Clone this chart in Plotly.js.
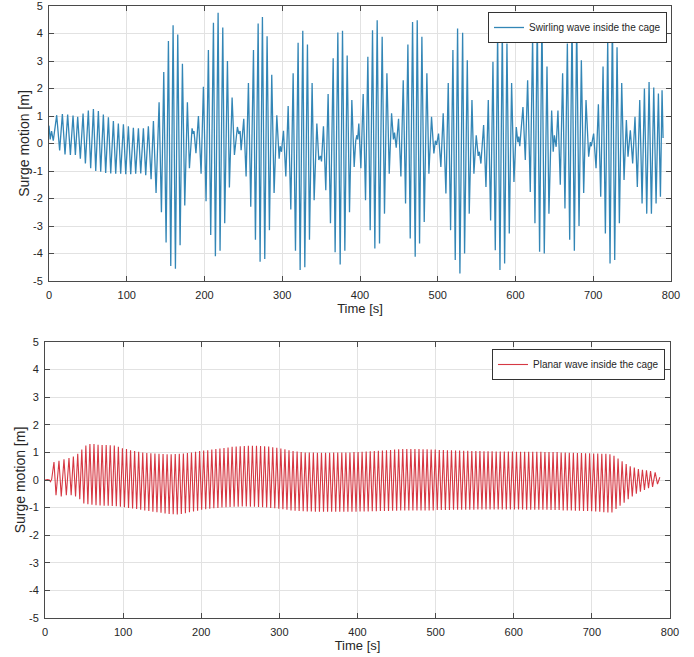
<!DOCTYPE html>
<html>
<head>
<meta charset="utf-8">
<script src="https://cdn.plot.ly/plotly-3.0.1.min.js"></script>
<style>html,body{margin:0;padding:0;background:#fff;}#chart{width:694px;height:657px;}</style>
</head>
<body>
<div id="chart"></div>
<script>
// ---------- Tick labels ----------
const xTickVals = [0, 100, 200, 300, 400, 500, 600, 700, 800];
const xTickText = ['0', '100', '200', '300', '400', '500', '600', '700', '800'];
const yTickVals = [-5, -4, -3, -2, -1, 0, 1, 2, 3, 4, 5];
const yTickText = ['-5', '-4', '-3', '-2', '-1', '0', '1', '2', '3', '4', '5'];

// ---------- Series names ----------
const swirlName = 'Swirling wave inside the cage';
const planarName = 'Planar wave inside the cage';

// ---------- Swirling wave: extremum times [s] and values [m] ----------
const swirlT = [
 0, 1.5, 3.3, 5.5,
 9.9, 13.7, 17.2, 20.6, 24.0, 27.5, 30.9, 33.9, 36.9, 40.3, 43.8, 46.8, 50.6, 53.6, 57.1, 60.1,
 63.5, 66.5, 69.9, 72.9, 76.4, 79.4, 82.8, 85.8, 89.2, 92.2, 95.7, 98.7, 102.1, 105.1, 108.5, 111.5,
 115.0, 118.0, 121.4, 124.4, 127.8, 131.3, 134.3, 137.7, 141.6, 144.6, 147.6, 150.6, 153.6, 156.6,
 159.6, 162.6, 165.6, 168.6, 171.6, 174.6, 178.0, 180.6,
 184.0, 185.5, 186.5, 189.0,
 192.2, 195.6, 198.6, 202.0, 205.0, 208.0, 211.5, 214.0, 217.5, 220.0, 223.5, 226.0, 229.5, 232.0, 235.5, 238.5,
 242.3, 244.1, 245.8, 247.1,
 250.5, 253.5, 256.5, 259.5, 263.0, 265.5, 269.0, 271.5, 274.5, 277.5, 280.5, 283.5, 286.5, 289.5, 293.0, 296.0,
 297.3, 299.0,
 301.6, 304.6, 307.6, 311.0, 314.0, 317.0, 320.4, 323.0, 326.4, 329.0, 332.4, 335.0, 338.4, 341.0, 344.5, 347.0,
 349.0, 350.5,
 353.0, 356.0, 359.0, 362.0, 365.5, 368.0, 371.5, 374.5, 377.5, 380.5, 383.5, 386.5, 389.5, 392.5,
 394.5, 396.0, 397.0,
 398.5, 401.1, 404.1, 407.1, 410.1, 413.1, 416.1, 419.1, 422.1, 425.1, 428.5, 431.5, 434.6, 437.6, 440.6,
 443.0, 444.4, 446.6,
 449.6, 452.6, 455.6, 458.6, 461.6, 464.6, 467.6, 471.0, 473.6, 476.6, 479.6, 482.6, 486.0, 488.6, 492.0, 495.0,
 497.0, 498.5,
 501.0, 504.0, 507.0, 510.5, 513.5, 516.5, 519.5, 522.5, 525.5, 528.5, 532.0, 534.5, 538.0, 540.5, 544.0, 546.5,
 549.5, 552.0, 553.5, 555.5,
 559.0, 562.0, 565.0, 568.0, 571.0, 574.0, 577.0, 580.0, 583.0, 586.0, 589.0, 592.0, 595.0, 598.0,
 601.0, 603.0, 604.2, 605.5,
 609.6, 612.6, 615.6, 619.0, 622.0, 625.0, 628.0, 631.0, 634.0, 637.0, 640.5, 643.0, 646.5,
 648.5, 650.0, 651.0, 652.3,
 654.6, 657.6, 660.6, 663.6, 666.7, 669.7, 672.7, 675.7, 678.7, 681.7, 684.7, 687.7, 690.7, 694.1,
 696.3, 697.5,
 700.5, 703.6, 706.6, 709.6, 712.6, 715.6, 718.6, 721.6, 724.6, 727.6, 730.6, 733.6, 736.6, 739.6,
 742.6, 744.7, 747.7, 750.7, 753.7, 756.7, 759.8, 762.8, 765.8, 768.8, 771.8, 774.8, 777.8, 780.8,
 783.8, 786.4, 788.5, 789.8
];
const swirlY = [
 0.65, 0.15, 0.45, 0.1,
 1.03, -0.25, 1.07, -0.4, 1.05, -0.42, 1.02, -0.42, 0.97, -0.55, 1.09, -0.73, 1.2, -0.9, 1.25, -1.0,
 1.18, -1.03, 1.05, -1.07, 0.95, -1.09, 0.82, -1.1, 0.73, -1.1, 0.7, -1.12, 0.63, -1.12, 0.57, -1.1,
 0.55, -1.09, 0.55, -1.15, 0.63, -1.3, 0.82, -1.8, 1.5, -2.5, 2.6, -3.6, 3.73, -4.45,
 4.3, -4.55, 3.96, -3.7, 2.9, -2.25, 1.5, -0.9,
 0.55, 0.35, 0.45, -0.35,
 1.0, -1.1, 2.06, -2.1, 3.4, -3.33, 4.39, -4.1, 4.75, -3.9, 4.22, -2.9, 3.0, -1.6, 1.67, -0.42,
 0.6, 0.35, 0.45, -0.24,
 0.9, -1.2, 2.2, -2.3, 3.4, -3.5, 4.36, -4.3, 4.6, -4.2, 3.9, -3.15, 2.5, -1.8, 1.03, -0.55,
 -0.1, -0.3,
 0.46, -1.2, 1.36, -2.4, 2.55, -3.9, 3.66, -4.6, 4.1, -4.5, 3.6, -3.5, 2.2, -2.06, 0.73, -0.6,
 -0.45, -0.65,
 0.63, -1.7, 1.8, -2.9, 3.1, -3.95, 4.04, -4.4, 4.1, -3.9, 3.2, -2.5, 1.58, -0.85,
 0.1, 0.3, 0.15,
 0.73, -0.9, 1.8, -2.06, 3.15, -3.15, 4.12, -3.82, 4.48, -3.64, 3.88, -2.55, 2.55, -1.1, 1.1,
 0.15, 0.4, -0.15,
 0.9, -1.2, 2.3, -2.18, 3.6, -3.45, 4.42, -4.12, 4.48, -3.64, 3.88, -2.85, 2.55, -1.1, 0.97, -0.36,
 0.1, -0.05,
 0.36, -0.85, 1.1, -1.82, 2.2, -3.15, 3.4, -4.24, 4.18, -4.73, 4.03, -4.0, 3.03, -2.55, 1.58, -1.1,
 0.3, -0.45, -0.3, -0.73,
 0.67, -1.58, 1.58, -2.8, 2.97, -3.88, 4.0, -4.6, 4.18, -4.36, 3.64, -3.27, 2.2, -1.4,
 0.6, 0.05, 0.25, -0.1,
 1.33, -0.6, 2.3, -1.76, 3.88, -2.9, 4.5, -3.94, 4.6, -4.0, 2.8, -2.55, 1.2,
 -0.3, 0.3, 0.1, -0.12,
 1.2, -1.5, 2.55, -2.36, 3.64, -3.5, 4.5, -3.9, 4.4, -3.0, 3.03, -1.8, 1.58, -0.48,
 0.05, -0.1,
 0.36, -0.9, 1.43, -1.94, 2.8, -3.27, 3.76, -4.36, 4.55, -4.24, 3.5, -2.9, 2.2, -1.33,
 0.85, -0.48, 0.48, -0.73, 0.97, -1.58, 1.58, -2.18, 2.0, -2.55, 2.24, -2.55, 2.04, -2.18,
 1.82, -1.94, 1.94, 0.2
];

// ---------- Planar wave ----------
// quiet lead-in before the first crest
const planarLeadT = [0, 3.0, 5.5, 7.0, 8.5];
const planarLeadY = [0, 0.02, 0.0, -0.06, 0.02];
// crest times [s] and crest values [m]
const planarPeakT = [
 11.5, 17.9, 24.3, 30.7, 36.3, 41.9,
 47.1, 52.3, 57.5, 62.7, 67.9, 73.1, 78.3, 83.5, 88.7, 93.9,
 99.1, 104.3, 109.5, 114.7, 119.9, 125.1, 130.3, 135.5, 140.7, 145.9,
 151.1, 156.3, 161.5, 166.7, 171.9, 177.1, 182.3, 187.5, 192.7, 197.9,
 203.1, 208.3, 213.5, 218.7, 223.9, 229.1, 234.3, 239.5, 244.7, 249.9,
 255.1, 260.3, 265.5, 270.7, 275.9, 281.1, 286.3, 291.5, 296.7, 301.9,
 307.1, 312.3, 317.5, 322.7, 327.9, 333.1, 338.3, 343.5, 348.7, 353.9,
 359.1, 364.3, 369.5, 374.7, 379.9, 385.1, 390.3, 395.5, 400.7, 405.9,
 411.1, 416.3, 421.5, 426.7, 431.9, 437.1, 442.3, 447.5, 452.7, 457.9,
 463.1, 468.3, 473.5, 478.7, 483.9, 489.1, 494.3, 499.5, 504.7, 509.9,
 515.1, 520.3, 525.5, 530.7, 535.9, 541.1, 546.3, 551.5, 556.7, 561.9,
 567.1, 572.3, 577.5, 582.7, 587.9, 593.1, 598.3, 603.5, 608.7, 613.9,
 619.1, 624.3, 629.5, 634.7, 639.9, 645.1, 650.3, 655.5, 660.7, 665.9,
 671.1, 676.3, 681.5, 686.7, 691.9, 697.1, 702.3, 707.5, 712.7, 717.9,
 723.1, 728.3, 733.5, 738.7, 743.9, 749.1, 754.3, 759.5, 764.7, 769.9,
 775.1, 781.0, 787.0
];
const planarPeak = [
 0.65, 0.7, 0.75, 0.8, 0.85, 0.95,
 1.1, 1.25, 1.3, 1.3, 1.28, 1.27, 1.27, 1.26, 1.25, 1.2,
 1.15, 1.12, 1.08, 1.05, 1.02, 1.0, 0.98, 0.97, 0.96, 0.95,
 0.94, 0.93, 0.93, 0.94, 0.95, 0.96, 0.98, 1.0, 1.02, 1.05,
 1.07, 1.08, 1.1, 1.12, 1.14, 1.16, 1.18, 1.2, 1.21, 1.22,
 1.23, 1.24, 1.24, 1.24, 1.23, 1.22, 1.21, 1.19, 1.17, 1.14,
 1.11, 1.08, 1.05, 1.03, 1.01, 1.0, 1.0, 1.0, 0.99, 0.99,
 0.99, 0.99, 1.0, 1.0, 1.0, 1.0, 1.0, 1.01, 1.01, 1.02,
 1.03, 1.04, 1.05, 1.06, 1.07, 1.08, 1.09, 1.1, 1.11, 1.12,
 1.12, 1.12, 1.12, 1.12, 1.11, 1.11, 1.1, 1.1, 1.09, 1.09,
 1.08, 1.08, 1.07, 1.07, 1.06, 1.06, 1.05, 1.05, 1.05, 1.04,
 1.04, 1.04, 1.03, 1.03, 1.03, 1.03, 1.03, 1.02, 1.02, 1.02,
 1.02, 1.02, 1.02, 1.02, 1.01, 1.01, 1.01, 1.01, 1.0, 1.0,
 0.99, 0.99, 0.98, 0.98, 0.97, 0.97, 0.96, 0.96, 0.95, 0.95,
 0.93, 0.88, 0.78, 0.68, 0.58, 0.5, 0.45, 0.4, 0.37, 0.35,
 0.32, 0.28, 0.1
];
// trough times [s] and trough values [m]
const planarTroughT = [
 14.1, 20.8, 27.3, 33.5, 39.1, 44.5,
 49.7, 54.9, 60.1, 65.3, 70.5, 75.7, 80.9, 86.1, 91.3, 96.5,
 101.7, 106.9, 112.1, 117.3, 122.5, 127.7, 132.9, 138.1, 143.3, 148.5,
 153.7, 158.9, 164.1, 169.3, 174.5, 179.7, 184.9, 190.1, 195.3, 200.5,
 205.7, 210.9, 216.1, 221.3, 226.5, 231.7, 236.9, 242.1, 247.3, 252.5,
 257.7, 262.9, 268.1, 273.3, 278.5, 283.7, 288.9, 294.1, 299.3, 304.5,
 309.7, 314.9, 320.1, 325.3, 330.5, 335.7, 340.9, 346.1, 351.3, 356.5,
 361.7, 366.9, 372.1, 377.3, 382.5, 387.7, 392.9, 398.1, 403.3, 408.5,
 413.7, 418.9, 424.1, 429.3, 434.5, 439.7, 444.9, 450.1, 455.3, 460.5,
 465.7, 470.9, 476.1, 481.3, 486.5, 491.7, 496.9, 502.1, 507.3, 512.5,
 517.7, 522.9, 528.1, 533.3, 538.5, 543.7, 548.9, 554.1, 559.3, 564.5,
 569.7, 574.9, 580.1, 585.3, 590.5, 595.7, 600.9, 606.1, 611.3, 616.5,
 621.7, 626.9, 632.1, 637.3, 642.5, 647.7, 652.9, 658.1, 663.3, 668.5,
 673.7, 678.9, 684.1, 689.3, 694.5, 699.7, 704.9, 710.1, 715.3, 720.5,
 725.7, 730.9, 736.1, 741.3, 746.5, 751.7, 756.9, 762.1, 767.3, 772.5,
 777.7, 784.0
];
const planarTrough = [
 -0.55, -0.6, -0.55, -0.55, -0.6, -0.7,
 -0.85, -0.88, -0.9, -0.91, -0.92, -0.93, -0.93, -0.94, -0.95, -0.97,
 -0.99, -1.01, -1.03, -1.05, -1.08, -1.1, -1.12, -1.15, -1.17, -1.19,
 -1.21, -1.23, -1.24, -1.25, -1.23, -1.2, -1.17, -1.14, -1.11, -1.08,
 -1.06, -1.04, -1.02, -1.01, -1.0, -0.99, -0.98, -0.97, -0.97, -0.96,
 -0.96, -0.97, -0.97, -0.98, -0.99, -1.0, -1.01, -1.02, -1.04, -1.06,
 -1.08, -1.1, -1.11, -1.12, -1.13, -1.14, -1.14, -1.15, -1.15, -1.15,
 -1.15, -1.15, -1.15, -1.15, -1.15, -1.15, -1.15, -1.15, -1.14, -1.14,
 -1.14, -1.13, -1.13, -1.12, -1.12, -1.12, -1.11, -1.11, -1.1, -1.1,
 -1.1, -1.1, -1.1, -1.1, -1.1, -1.1, -1.1, -1.09, -1.09, -1.09,
 -1.09, -1.08, -1.08, -1.08, -1.08, -1.08, -1.08, -1.07, -1.07, -1.07,
 -1.07, -1.07, -1.07, -1.07, -1.07, -1.07, -1.07, -1.07, -1.07, -1.08,
 -1.08, -1.08, -1.08, -1.08, -1.08, -1.09, -1.09, -1.09, -1.1, -1.1,
 -1.1, -1.11, -1.11, -1.12, -1.12, -1.13, -1.14, -1.15, -1.17, -1.18,
 -1.18, -1.05, -0.93, -0.82, -0.7, -0.6, -0.5, -0.42, -0.36, -0.3,
 -0.25, -0.15
];

// ---------- Build planar series: lead-in, then crest/trough alternately ----------
const planarT = planarLeadT.slice();
const planarY = planarLeadY.slice();
for (let i = 0; i < planarPeakT.length; i++) {
  planarT.push(planarPeakT[i]); planarY.push(planarPeak[i]);
  if (i < planarTroughT.length) { planarT.push(planarTroughT[i]); planarY.push(planarTrough[i]); }
}

const FONT = '"Liberation Sans", Arial, Helvetica, sans-serif';
const AX = '#4a4a4a';
const GRID = '#e2e2e2';
const TXT = '#262626';

function xAxis(domain, anchor) {
  return {
    domain: domain, anchor: anchor, range: [0, 800],
    tickmode: 'array', tickvals: xTickVals, ticktext: xTickText,
    ticks: 'inside', ticklen: 5, tickcolor: AX, tickwidth: 1,
    showline: true, linecolor: AX, linewidth: 1, mirror: 'ticks',
    showgrid: true, gridcolor: GRID, gridwidth: 1, zeroline: false,
    tickfont: {family: FONT, size: 11, color: TXT},
    ticklabelstandoff: 4, ticklabeloverflow: 'allow',
    title: {text: 'Time [s]', font: {family: FONT, size: 13, color: TXT}, standoff: 3},
    automargin: false, fixedrange: true
  };
}
function yAxis(domain, anchor, standoff) {
  return {
    domain: domain, anchor: anchor, range: [-5, 5],
    tickmode: 'array', tickvals: yTickVals, ticktext: yTickText,
    ticks: 'inside', ticklen: 5, tickcolor: AX, tickwidth: 1,
    showline: true, linecolor: AX, linewidth: 1, mirror: 'ticks',
    showgrid: true, gridcolor: GRID, gridwidth: 1, zeroline: false,
    tickfont: {family: FONT, size: 11, color: TXT},
    ticklabelstandoff: 3, ticklabeloverflow: 'allow',
    title: {text: 'Surge motion [m]', font: {family: FONT, size: 14, color: TXT}, standoff: standoff},
    automargin: false, fixedrange: true
  };
}

const W = 694, H = 657;
const traces = [
  {x: swirlT, y: swirlY, type: 'scatter', mode: 'lines', name: swirlName,
   line: {color: '#3386b6', width: 1.3}, xaxis: 'x', yaxis: 'y', legend: 'legend', hoverinfo: 'skip'},
  {x: planarT, y: planarY, type: 'scatter', mode: 'lines', name: planarName,
   line: {color: '#d63843', width: 1.1}, xaxis: 'x2', yaxis: 'y2', legend: 'legend2', hoverinfo: 'skip'}
];

const legendStyle = {
  xanchor: 'right', yanchor: 'top', bgcolor: '#ffffff', bordercolor: '#333333', borderwidth: 1,
  font: {family: FONT, size: 10, color: TXT}, itemwidth: 30, tracegroupgap: 0
};

const layout = {
  width: W, height: H,
  margin: {l: 0, r: 0, t: 0, b: 0, pad: 0},
  paper_bgcolor: '#ffffff', plot_bgcolor: '#ffffff',
  font: {family: FONT, size: 11, color: TXT},
  showlegend: true,
  xaxis: xAxis([49 / W, 671 / W], 'y'),
  yaxis: yAxis([1 - 281 / H, 1 - 6 / H], 'x', 0),
  xaxis2: xAxis([45 / W, 670 / W], 'y2'),
  yaxis2: yAxis([1 - 618 / H, 1 - 342 / H], 'x2', 0),
  legend: Object.assign({x: 667 / W, y: 1 - 12 / H}, legendStyle),
  legend2: Object.assign({x: 665 / W, y: 1 - 349 / H}, legendStyle)
};

Plotly.newPlot('chart', traces, layout, {staticPlot: true, displayModeBar: false});
</script>
</body>
</html>
